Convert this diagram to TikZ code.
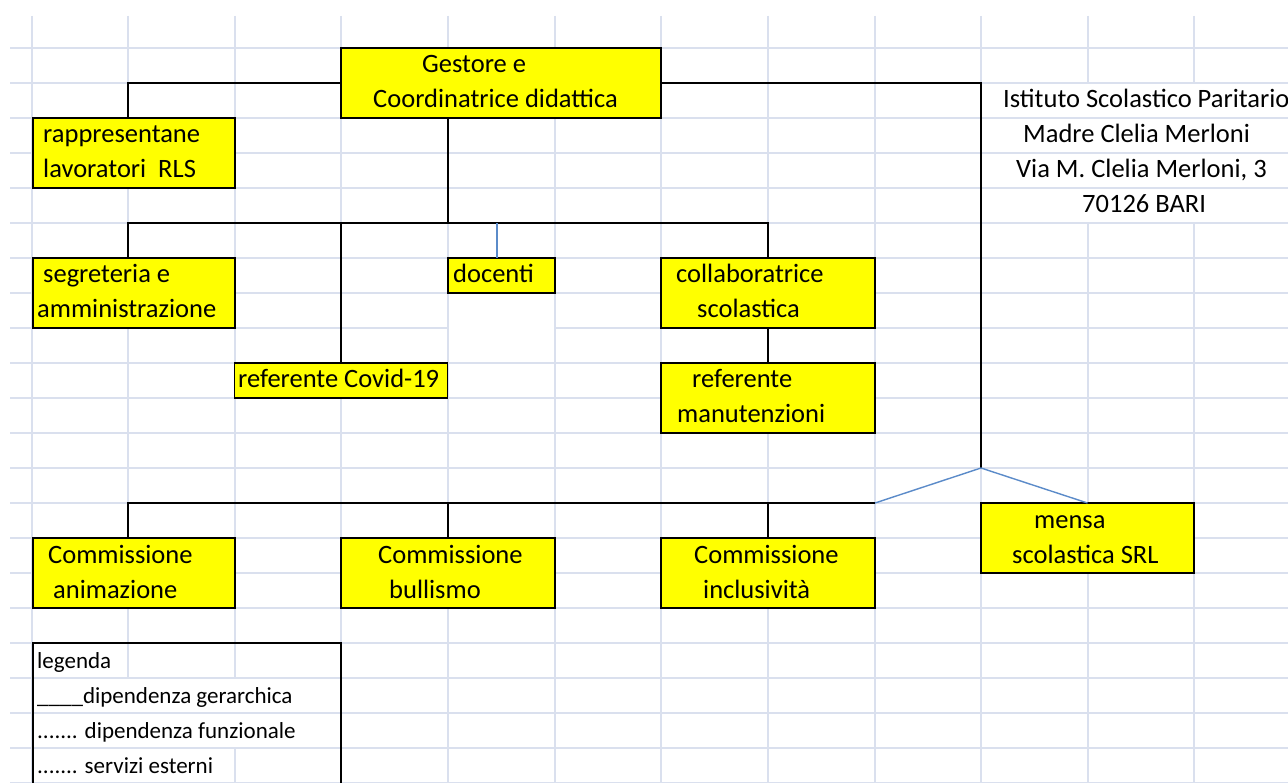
\documentclass[tikz,border=0pt]{standalone}
\usepackage{fontspec}
\setmainfont{Carlito}
\definecolor{cellgrid}{HTML}{DAE0EE}
\definecolor{boxyellow}{HTML}{FFFF00}
\definecolor{linkblue}{HTML}{5B8BC9}
\newcommand\cellfont{\fontsize{26.5}{30}\selectfont}
\newcommand\legendfont{\fontsize{23}{28}\selectfont}
\tikzset{
  gridline/.style={cellgrid, line width=1.5pt},
  box/.style={draw, fill=boxyellow, line width=1.6pt, inner sep=0pt, outer sep=0pt},
  cell/.style={anchor=base west, inner sep=0pt, font=\cellfont},
  legendcell/.style={cell, font=\legendfont},
  link/.style={line width=1.6pt},
  service/.style={linkblue, line width=1.4pt},
}
\begin{document}
\begin{tikzpicture}[yscale=-1, x=1pt, y=1pt]
  \fill[white] (0,0) rectangle (1288,783);
  \useasboundingbox (0,0) rectangle (1288,783);

  % sheet grid
  \foreach \x in {32,341,448,555,661,768,875,981} \draw[gridline] (\x,16) -- (\x,783);
  \foreach \x in {128,235} \draw[gridline] (\x,16) -- (\x,678);
  \draw[gridline] (235,748) -- (235,783);
  \foreach \x in {1088,1194} \draw[gridline] (\x,16) -- (\x,83) (\x,223) -- (\x,783);
  \foreach \y in {48,83,...,783} \draw[gridline] (10,\y) -- (1288,\y);
  \fill[white] (448.8,293) rectangle (554.2,328.8);

  \coordinate (hub) at (448,223);
  \coordinate (fork) at (981,468);
  \coordinate (bar) at (875,503);

  % boxes
  \node[box, minimum width=320, minimum height=70] (gestore) at (501,83) {};
  \node[box, minimum width=202, minimum height=70] (rls) at (134,153) {};
  \node[box, minimum width=202, minimum height=70] (segreteria) at (134,293) {};
  \node[box, minimum width=107, minimum height=35] (docenti) at (501.5,275.5) {};
  \node[box, minimum width=214, minimum height=70] (collab) at (768,293) {};
  \node[box, minimum width=213, minimum height=35] (covid) at (341,380.5) {};
  \node[box, minimum width=214, minimum height=70] (manut) at (768,398) {};
  \node[box, minimum width=202, minimum height=70] (animazione) at (134,573) {};
  \node[box, minimum width=214, minimum height=70] (bullismo) at (448,573) {};
  \node[box, minimum width=214, minimum height=70] (inclusivita) at (768,573) {};
  \node[box, minimum width=213, minimum height=70] (mensa) at (1087.5,538) {};
  \node[draw, line width=1.6pt, minimum width=308, minimum height=150, inner sep=0pt] (legenda) at (187,718) {};

  % connectors
  \draw[link] (gestore.west) -| ([xshift=-6]rls.north);
  \draw[link] (gestore.east) -| (fork);
  \draw[link] ([xshift=-53]gestore.south) -- (hub);
  \draw[link] ([xshift=-6]segreteria.north) -- ++(0,-35) -| (collab.north);
  \draw[link] (covid.north) -- (covid.north |- hub);
  \draw[service] ([xshift=-4.5]docenti.north) -- ++(0,-35);
  \draw[link] (collab.south) -- (manut.north);
  \draw[link] (bar) -| ([xshift=-6]animazione.north);
  \draw[link] (bullismo.north) -- (bullismo.north |- bar);
  \draw[link] (inclusivita.north) -- (inclusivita.north |- bar);
  \draw[service] (bar) -- (fork) -- (mensa.north);

  % texts
  \node[cell] (g1) at (422,73) {Gestore e};
  \node[cell] (g2) at (373,108) {Coordinatrice didattica};
  \node[cell] (r1) at (43,143) {rappresentane};
  \node[cell] (r2) at (43,178) {lavoratori\ \ RLS};
  \node[cell] (s1) at (43,283) {segreteria e};
  \node[cell] (s2) at (37,318) {amministrazione};
  \node[cell] (d1) at (453,283) {docenti};
  \node[cell] (c1) at (676,283) {collaboratrice};
  \node[cell] (c2) at (697,318) {scolastica};
  \node[cell] (v1) at (238,388) {referente Covid-19};
  \node[cell] (m1) at (692,388) {referente};
  \node[cell] (m2) at (677,423) {manutenzioni};
  \node[cell] (a1) at (48,563) {Commissione};
  \node[cell] (a2) at (53,598) {animazione};
  \node[cell] (b1) at (378,563) {Commissione};
  \node[cell] (b2) at (389,598) {bullismo};
  \node[cell] (i1) at (694,563) {Commissione};
  \node[cell] (i2) at (703,598) {inclusività};
  \node[cell] (e1) at (1034,528) {mensa};
  \node[cell] (e2) at (1012,563) {scolastica SRL};
  \node[cell] (h1) at (1003,108) {Istituto Scolastico Paritario};
  \node[cell] (h2) at (1023,143) {Madre Clelia Merloni};
  \node[cell] (h3) at (1016,178) {Via M. Clelia Merloni, 3};
  \node[cell] (h4) at (1082,213) {70126 BARI};
  \node[legendcell] (l1) at (37,668) {legenda};
  \node[legendcell] (l2) at (37,703) {\_\_\_\_dipendenza gerarchica};
  \node[legendcell] (l3) at (37,738) {....... dipendenza funzionale};
  \node[legendcell] (l4) at (37,773) {....... servizi esterni};
\end{tikzpicture}
\end{document}
